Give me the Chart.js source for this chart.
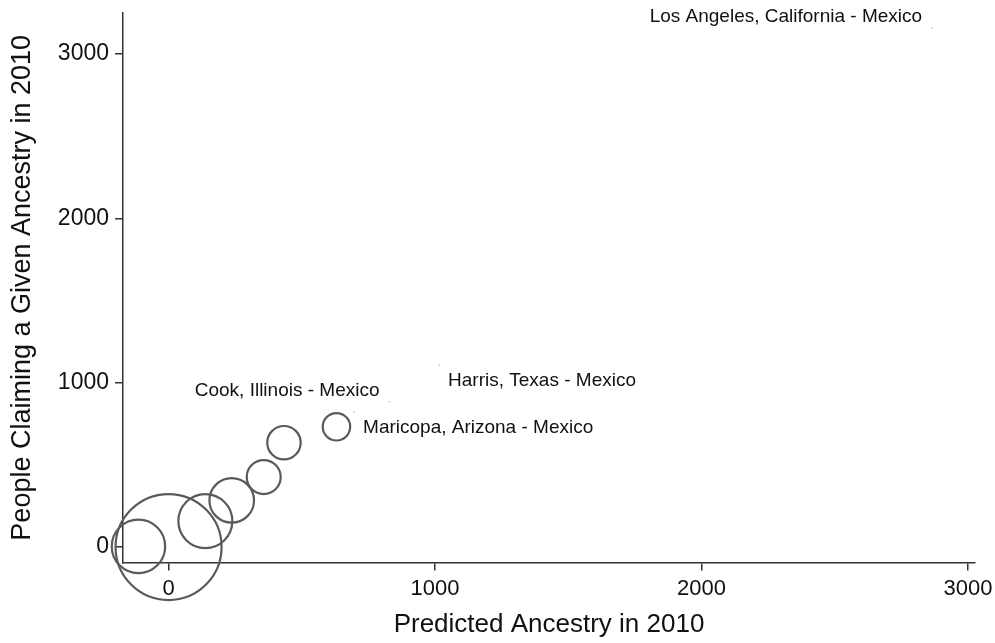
<!DOCTYPE html>
<html>
<head>
<meta charset="utf-8">
<script src="https://cdn.jsdelivr.net/npm/chart.js@4.4.1/dist/chart.umd.min.js"></script>
<style>
  html, body { margin: 0; padding: 0; background: #fff; }
  #wrap { width: 995px; height: 643px; }
</style>
</head>
<body>
<div id="wrap"><canvas id="myChart" width="995" height="643"></canvas></div>
<script>
// weighted county points (hollow circles)
var predX  = [0, -113, 138, 237, 357, 433, 630];
var claimY = [0, 4, 158, 284, 426, 635, 732];
var weight = [2810, 713, 729, 497, 289, 279, 188];

// labelled counties (small markers)
var labelNames = ['Los Angeles, California - Mexico', 'Harris, Texas - Mexico', 'Cook, Illinois - Mexico', 'Maricopa, Arizona - Mexico'];
var labelX = [2865, 1015, 829, 696];
var labelY = [3160, 1108, 884, 823];

var xTicks = [0, 1000, 2000, 3000];
var yTicks = [0, 1000, 2000, 3000];

var font = "'Liberation Sans', Arial, sans-serif";

var bubbles = [];
for (var i = 0; i < predX.length; i++) {
  bubbles.push({x: predX[i], y: claimY[i], r: Math.sqrt(weight[i])});
}
var marks = [];
for (var j = 0; j < labelX.length; j++) {
  marks.push({x: labelX[j], y: labelY[j], r: 0.8, name: labelNames[j]});
}

// label placement: left/up for 1st & 3rd, right/down for the others
var labelPlugin = {
  id: 'pointLabels',
  afterDatasetsDraw: function(chart) {
    var ctx = chart.ctx;
    var meta = chart.getDatasetMeta(1);
    ctx.save();
    ctx.font = '19px ' + font;
    ctx.fillStyle = '#111';
    ctx.textBaseline = 'middle';
    meta.data.forEach(function(pt, k) {
      if (k == 0 || k == 2) {
        ctx.textAlign = 'right';
        ctx.fillText(labelNames[k], pt.x - 10, pt.y - 11);
      } else {
        ctx.textAlign = 'left';
        ctx.fillText(labelNames[k], pt.x + 9, pt.y + 16);
      }
    });
    ctx.restore();
  }
};

function plain(v) { return String(v); }

new Chart("myChart", {
  type: "bubble",
  data: {
    datasets: [{
      data: bubbles,
      backgroundColor: 'rgba(0,0,0,0)',
      borderColor: '#5a5a5a',
      borderWidth: 2.2,
      hoverBorderWidth: 2.2,
      clip: false
    }, {
      data: marks,
      backgroundColor: '#b0b0b0',
      borderColor: '#b0b0b0',
      borderWidth: 0,
      clip: false
    }]
  },
  options: {
    responsive: false,
    animation: false,
    events: [],
    layout: {autoPadding: false, padding: {top: 13, right: 20, left: 0, bottom: 0}},
    plugins: {
      legend: {display: false},
      tooltip: {enabled: false}
    },
    scales: {
      x: {
        type: 'linear',
        min: -171,
        max: 3026,
        afterBuildTicks: function(scale) {
          scale.ticks = xTicks.map(function(v) { return {value: v}; });
        },
        afterFit: function(scale) {
          scale.height = 80.5;
          scale.paddingLeft = 0;
          scale.paddingRight = 0;
        },
        grid: {display: true, drawOnChartArea: false, drawTicks: true, tickLength: 8, color: '#333', lineWidth: 1.5},
        border: {display: true, color: '#333', width: 1.5},
        ticks: {color: '#111', font: {family: font, size: 22}, padding: 5, maxRotation: 0, callback: plain},
        title: {display: true, text: 'Predicted Ancestry in 2010', color: '#111', font: {family: font, size: 26}, padding: {top: 0, bottom: 3}}
      },
      y: {
        type: 'linear',
        min: -94,
        max: 3250,
        afterBuildTicks: function(scale) {
          scale.ticks = yTicks.map(function(v) { return {value: v}; });
        },
        afterFit: function(scale) {
          scale.width = 123;
          scale.paddingTop = 0;
          scale.paddingBottom = 0;
        },
        grid: {display: true, drawOnChartArea: false, drawTicks: true, tickLength: 8, color: '#333', lineWidth: 1.5},
        border: {display: true, color: '#333', width: 1.5},
        ticks: {color: '#111', font: {family: font, size: 23}, padding: 6, callback: plain},
        title: {display: true, text: 'People Claiming a Given Ancestry in 2010', color: '#111', font: {family: font, size: 27}, padding: {top: 6, bottom: 0}}
      }
    }
  },
  plugins: [labelPlugin]
});
</script>
</body>
</html>
